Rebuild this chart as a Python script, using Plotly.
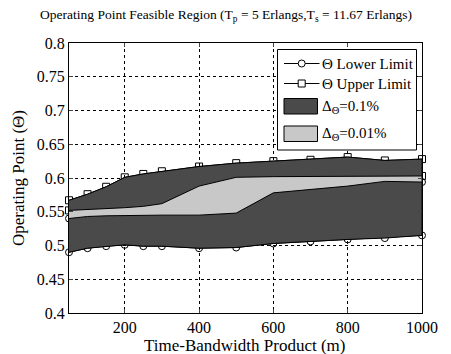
import plotly.graph_objects as go

x = [50, 100, 150, 200, 250, 300, 400, 500, 600, 700, 800, 900, 1000]
lower_01 = [0.490, 0.496, 0.499, 0.501, 0.499, 0.499, 0.496, 0.497, 0.503, 0.506, 0.509, 0.511, 0.515]
upper_01 = [0.567, 0.576, 0.587, 0.601, 0.606, 0.610, 0.617, 0.622, 0.625, 0.627, 0.631, 0.626, 0.628]
lower_001 = [0.540, 0.543, 0.544, 0.545, 0.545, 0.545, 0.545, 0.548, 0.578, 0.583, 0.588, 0.595, 0.594]
upper_001 = [0.552, 0.553, 0.555, 0.556, 0.558, 0.562, 0.588, 0.601, 0.602, 0.602, 0.602, 0.602, 0.603]

legend_labels = ["Θ Lower Limit", "Θ Upper Limit", "Δ<sub>Θ</sub>=0.1%", "Δ<sub>Θ</sub>=0.01%"]
x_title = "Time-Bandwidth Product (m)"
y_title = "Operating Point (Θ)"
chart_title = "Operating Point Feasible Region (T<sub>p</sub> = 5 Erlangs,T<sub>s</sub> = 11.67 Erlangs)"
dark = "#4a4a4a"
light = "#c8c8c8"
FONT = "Liberation Serif, Times New Roman, serif"

W, H = 451, 354
ML, MR, MT, MB = 69, 29, 43, 41
PW, PH = W - ML - MR, H - MT - MB


def px(xp):
    return (xp - ML) / PW


def py(yp):
    return (H - MB - yp) / PH


fig = go.Figure()


def limit_trace(y, symbol, name):
    return go.Scatter(x=x, y=y, mode="lines+markers", name=name, showlegend=False,
                      line=dict(color="black", width=1),
                      marker=dict(symbol=symbol, size=7, color="black", line=dict(width=1)),
                      cliponaxis=False, xaxis="x", yaxis="y")


# limit lines with markers (base axes)
fig.add_trace(limit_trace(lower_01, "circle-open", legend_labels[0]))
fig.add_trace(limit_trace(upper_01, "square-open", legend_labels[1]))
fig.add_trace(limit_trace(lower_001, "circle-open", "Θ Lower Limit (0.01%)"))
fig.add_trace(limit_trace(upper_001, "square-open", "Θ Upper Limit (0.01%)"))

# filled regions drawn on an overlaying axis pair, so they cover the markers
fig.add_trace(go.Scatter(x=x + x[::-1], y=upper_01 + lower_01[::-1], fill="toself",
                         mode="lines", fillcolor=dark, line=dict(color="black", width=1),
                         name=legend_labels[2], showlegend=False, xaxis="x2", yaxis="y2"))
fig.add_trace(go.Scatter(x=x + x[::-1], y=upper_001 + lower_001[::-1], fill="toself",
                         mode="lines", fillcolor=light, line=dict(color="black", width=1),
                         name=legend_labels[3], showlegend=False, xaxis="x2", yaxis="y2"))

# legend drawn as shapes + text
shapes = [
    dict(type="rect", xref="paper", yref="paper", x0=px(277.5), x1=px(416.5), y0=py(150), y1=py(49.5),
         fillcolor="white", line=dict(color="black", width=1), layer="above"),
    dict(type="line", xref="paper", yref="paper", x0=px(284), x1=px(319.5), y0=py(63.5), y1=py(63.5),
         line=dict(color="black", width=1), layer="above"),
    dict(type="circle", xref="paper", yref="paper", x0=px(298.2), x1=px(305.2), y0=py(67), y1=py(60),
         fillcolor="white", line=dict(color="black", width=1), layer="above"),
    dict(type="line", xref="paper", yref="paper", x0=px(284), x1=px(319.5), y0=py(83.5), y1=py(83.5),
         line=dict(color="black", width=1), layer="above"),
    dict(type="rect", xref="paper", yref="paper", x0=px(298.2), x1=px(305.2), y0=py(87), y1=py(80),
         fillcolor="white", line=dict(color="black", width=1), layer="above"),
    dict(type="rect", xref="paper", yref="paper", x0=px(284), x1=px(317.5), y0=py(114), y1=py(98.5),
         fillcolor=dark, line=dict(color="black", width=1), layer="above"),
    dict(type="rect", xref="paper", yref="paper", x0=px(284), x1=px(317.5), y0=py(141.5), y1=py(126),
         fillcolor=light, line=dict(color="black", width=1), layer="above"),
]
text_y = [63.5, 83.5, 107, 134]
annotations = [
    dict(text=t, xref="paper", yref="paper", x=px(320), y=py(yy), xanchor="left", yanchor="middle",
         showarrow=False, font=dict(family=FONT, size=15, color="black"))
    for t, yy in zip(legend_labels, text_y)
]
annotations.append(dict(text=x_title, xref="paper", yref="paper", x=px(244), y=py(345),
                        xanchor="center", yanchor="middle", showarrow=False,
                        font=dict(family=FONT, size=17, color="black")))
annotations.append(dict(text=y_title, xref="paper", yref="paper", x=px(18), y=py(178),
                        xanchor="center", yanchor="middle", showarrow=False, textangle=-90,
                        font=dict(family=FONT, size=17, color="black")))

fig.update_layout(
    width=W, height=H,
    margin=dict(l=ML, r=MR, t=MT, b=MB, autoexpand=False),
    paper_bgcolor="white", plot_bgcolor="white",
    font=dict(family=FONT, color="black", size=16),
    showlegend=False,
    shapes=shapes,
    annotations=annotations,
    title=dict(text=chart_title,
               font=dict(size=13.5, family=FONT, color="black"), x=px(226), xref="paper",
               xanchor="center", y=1 - 14 / H, yanchor="middle"),
    xaxis=dict(range=[50, 1000], tick0=0, dtick=200, ticks="inside", ticklen=4, showline=True,
               linecolor="black", linewidth=1, mirror="ticks", showgrid=True, gridcolor="black",
               griddash="dot", gridwidth=1, zeroline=False, automargin=False,
               tickfont=dict(size=16, family=FONT)),
    yaxis=dict(range=[0.4, 0.8], dtick=0.05, tick0=0.4, ticks="inside", ticklen=4, showline=True,
               linecolor="black", linewidth=1, mirror="ticks", showgrid=True, gridcolor="black",
               griddash="dot", gridwidth=1, zeroline=False, tickformat="~g", automargin=False,
               tickfont=dict(size=16, family=FONT)),
    xaxis2=dict(range=[50, 1000], overlaying="x", visible=False, showgrid=False, zeroline=False),
    yaxis2=dict(range=[0.4, 0.8], overlaying="y", visible=False, showgrid=False, zeroline=False),
)

fig.write_html("out.html", config={"displayModeBar": False},
               post_script="document.body.style.margin='0px';")
